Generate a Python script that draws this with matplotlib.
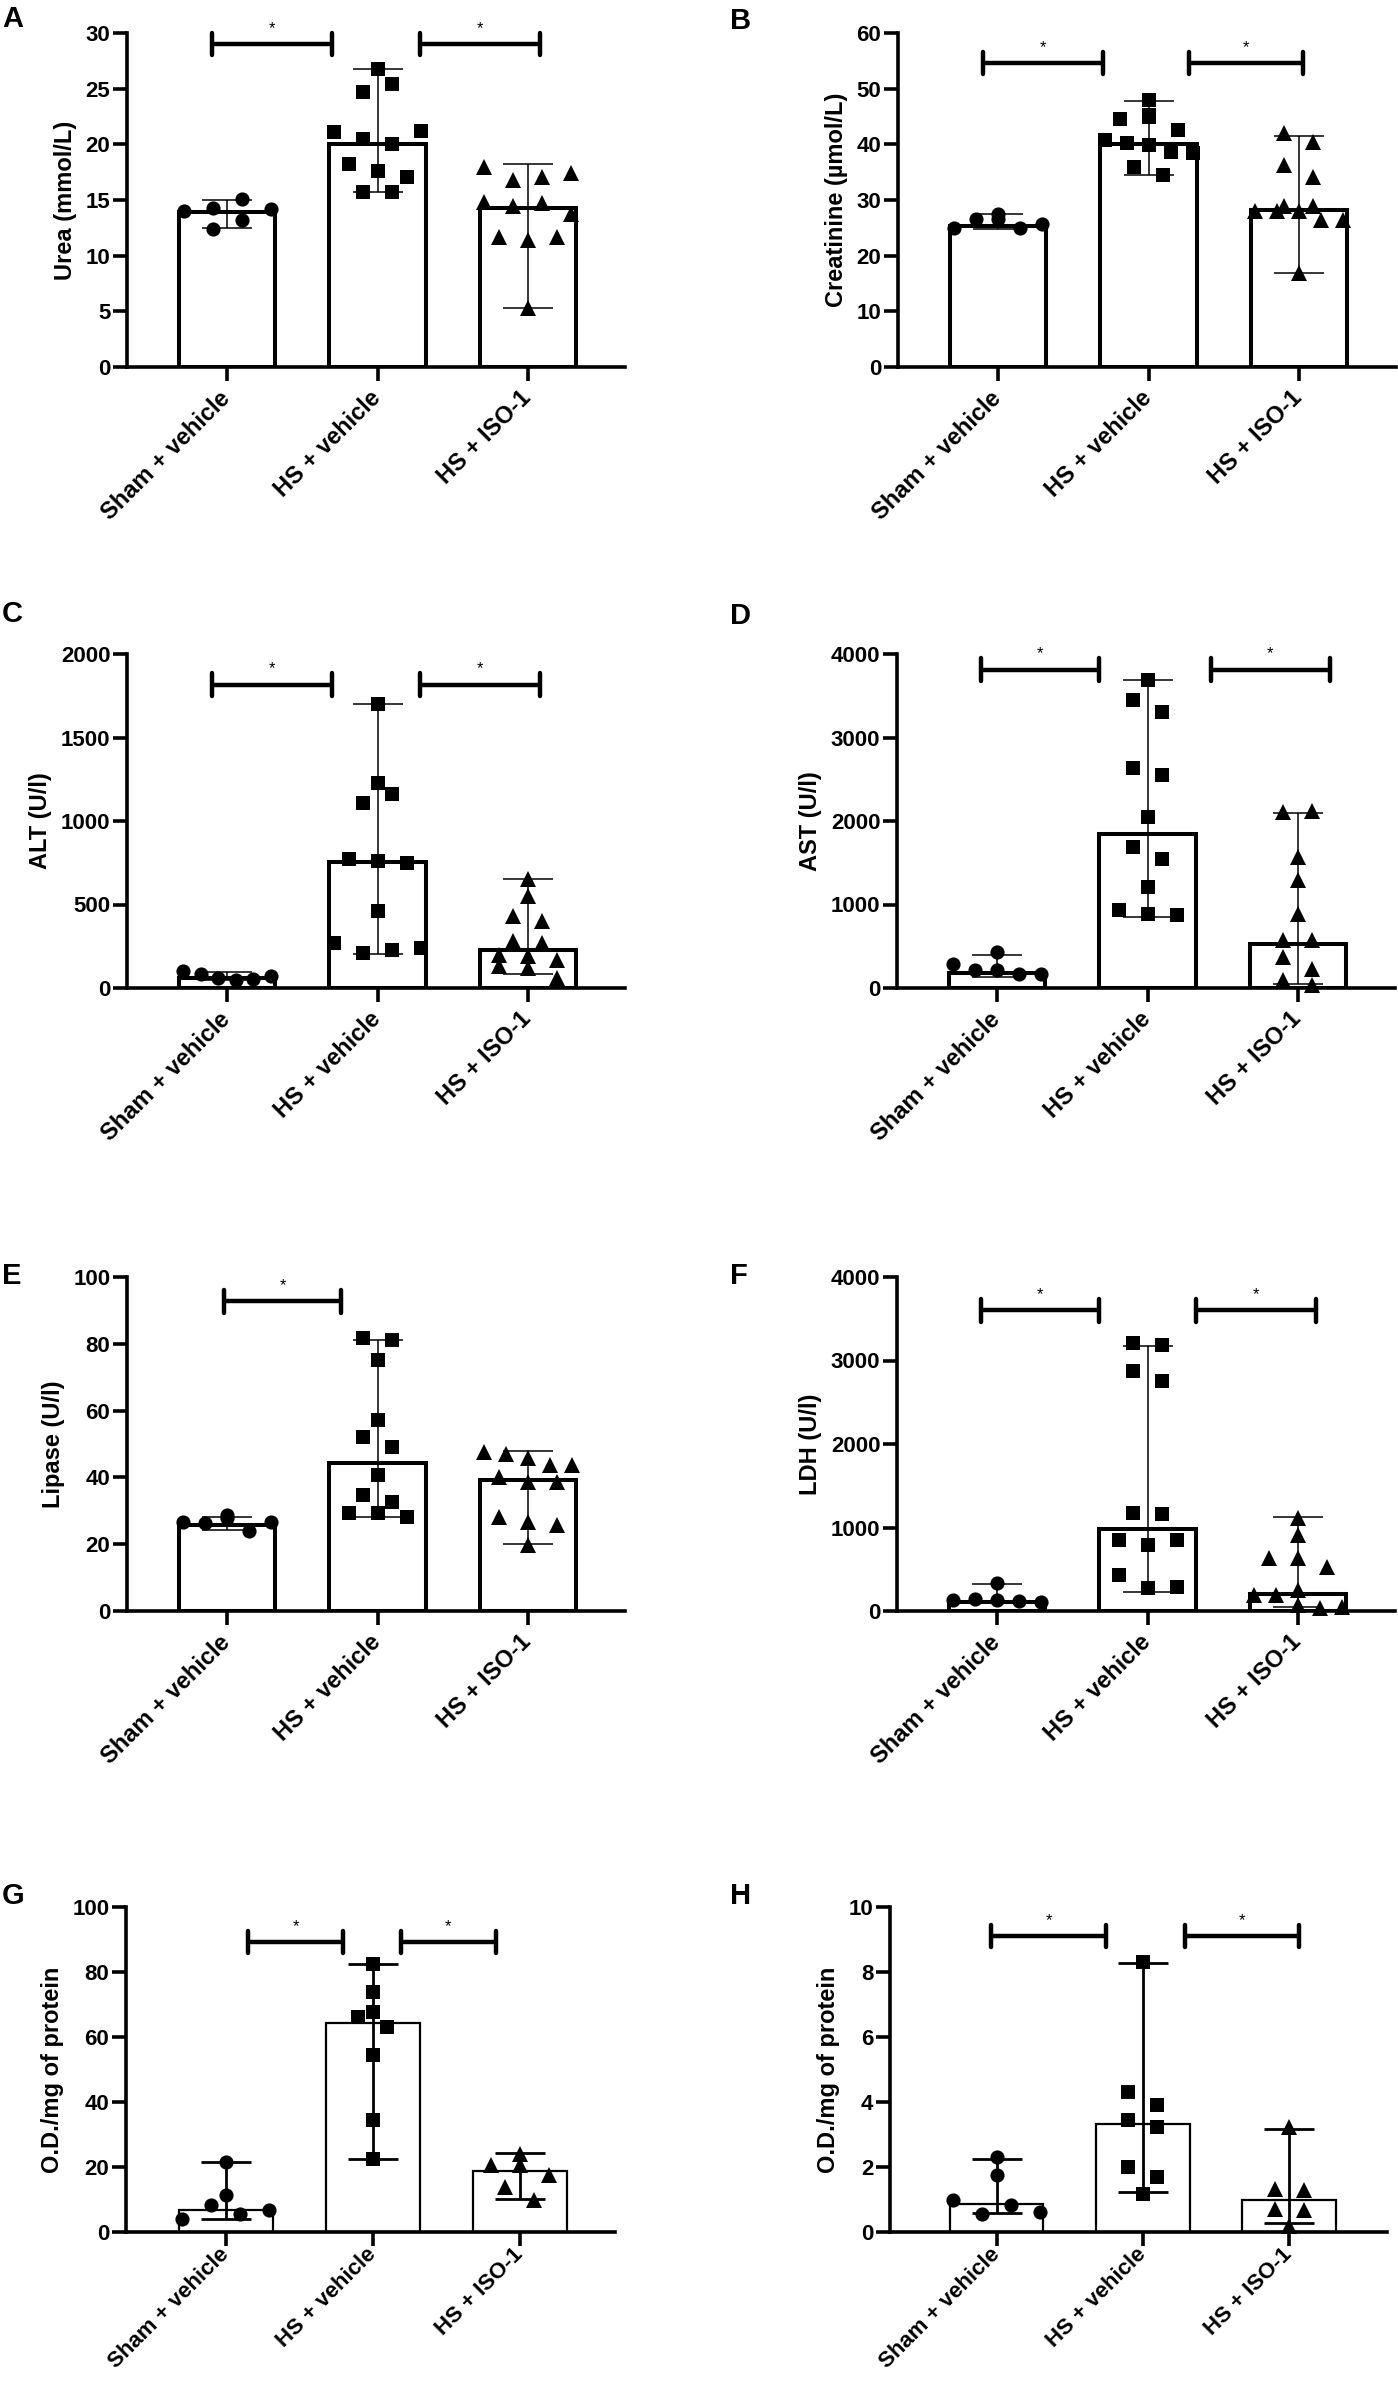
import matplotlib
matplotlib.use("Agg")
import matplotlib.pyplot as plt
import numpy as np

plt.rcParams["font.family"] = ["Liberation Sans", "DejaVu Sans"]
plt.rcParams["font.weight"] = "bold"

groups = ["Sham + vehicle", "HS + vehicle", "HS + ISO-1"]

# A - urea (mmol/L)
urea_sham = [14.0, 14.3, 15.1, 12.4, 13.2, 14.2]
urea_hs = [26.8, 24.7, 25.4, 21.1, 20.5, 20.0, 21.2, 18.2, 17.6, 17.1, 15.7, 15.7]
urea_iso = [18.0, 16.8, 17.1, 17.4, 14.8, 14.5, 14.7, 13.7, 11.7, 11.4, 11.7, 5.3]
urea_bar = [13.9, 20.0, 14.3]
urea_lo = [12.5, 15.7, 5.3]
urea_hi = [15.0, 26.8, 18.2]

# B - creatinine (umol/L)
crea_sham = [24.9, 26.5, 27.5, 26.5, 24.9, 25.6]
crea_hs = [48.0, 45.3, 44.5, 45.0, 42.6, 40.8, 40.2, 39.9, 38.7, 38.4, 36.0, 34.5]
crea_iso = [42.0, 40.5, 36.3, 34.2, 29.0, 28.0, 28.0, 28.0, 29.0, 26.4, 26.4, 16.8]
crea_bar = [25.4, 40.0, 28.2]
crea_lo = [24.8, 34.5, 16.8]
crea_hi = [27.5, 47.7, 41.5]

# C - ALT (U/l)
alt_sham = [100, 85, 60, 45, 55, 70]
alt_hs = [1700, 1230, 1110, 1160, 770, 760, 750, 460, 270, 210, 230, 240]
alt_iso = [650, 550, 430, 400, 280, 270, 200, 190, 170, 130, 120, 60]
alt_bar = [60, 756, 226]
alt_lo = [45, 205, 86]
alt_hi = [96, 1700, 652]

# D - AST (U/l)
ast_sham = [430, 290, 210, 210, 170, 170]
ast_hs = [3690, 3450, 3310, 2630, 2550, 2050, 1690, 1550, 1210, 930, 890, 870]
ast_iso = [2110, 2120, 1570, 1290, 890, 570, 570, 370, 230, 90, 40]
ast_bar = [175, 1840, 532]
ast_lo = [130, 852, 50]
ast_hi = [400, 3692, 2100]

# E - lipase (U/l)
lip_sham = [28.7, 26.7, 26.2, 27.7, 24.0, 26.7]
lip_hs = [81.7, 81.2, 75.2, 57.2, 52.2, 49.2, 40.7, 34.7, 32.7, 29.2, 29.2, 28.0]
lip_iso = [47.7, 47.0, 45.7, 43.7, 43.7, 40.0, 38.7, 38.7, 28.2, 26.7, 25.7, 19.7]
lip_bar = [25.7, 44.2, 39.2]
lip_lo = [24.2, 28.0, 20.0]
lip_hi = [28.0, 81.2, 48.0]

# F - LDH (U/l)
ldh_sham = [330, 128, 148, 128, 118, 110]
ldh_hs = [3210, 3190, 2870, 2750, 1170, 1160, 850, 790, 850, 430, 270, 290]
ldh_iso = [1110, 910, 630, 630, 530, 250, 190, 190, 70, 30, 50]
ldh_bar = [108, 988, 208]
ldh_lo = [90, 228, 48]
ldh_hi = [328, 3176, 1128]

# G - O.D./mg of protein
odg_sham = [11.3, 4.1, 8.2, 21.5, 5.6, 6.7]
odg_hs = [82.6, 73.8, 67.7, 66.2, 63.1, 54.4, 34.4, 22.6]
odg_iso = [24.1, 20.5, 20.5, 17.4, 13.8, 9.7]
odg_bar = [6.7, 64.4, 18.8]
odg_lo = [4.1, 22.6, 10.3]
odg_hi = [21.5, 82.6, 24.3]

# H - O.D./mg of protein
odh_sham = [0.97, 0.56, 2.31, 1.74, 0.82, 0.62]
odh_hs = [8.3, 4.3, 3.9, 3.44, 3.23, 2.0, 1.69, 1.18]
odh_iso = [3.23, 1.33, 1.28, 0.72, 0.67, 0.2]
odh_bar = [0.87, 3.31, 0.99]
odh_lo = [0.58, 1.23, 0.28]
odh_hi = [2.26, 8.28, 3.18]

W, H = 1398, 2381


def rect(x0, top, width, height):
    return [x0 / W, 1 - (top + height) / H, width / W, height / H]


panels = [
    dict(letter="A", lpos=(2, 5), ylabel="Urea (mmol/L)", ymax=30, ystep=5,
         pts=(urea_sham, urea_hs, urea_iso), bar=urea_bar, lo=urea_lo, hi=urea_hi,
         br=[(-0.10, 0.70, 29.0), (1.28, 2.08, 29.0)],
         rect=rect(127, 33, 498, 334), xlim=(-0.665, 2.645), thin=False),
    dict(letter="B", lpos=(730, 7), ylabel="Creatinine (µmol/L)", ymax=60, ystep=10,
         pts=(crea_sham, crea_hs, crea_iso), bar=crea_bar, lo=crea_lo, hi=crea_hi,
         br=[(-0.10, 0.70, 54.6), (1.27, 2.03, 54.6)],
         rect=rect(898, 33, 498, 334), xlim=(-0.665, 2.645), thin=False),
    dict(letter="C", lpos=(2, 600), ylabel="ALT (U/l)", ymax=2000, ystep=500,
         pts=(alt_sham, alt_hs, alt_iso), bar=alt_bar, lo=alt_lo, hi=alt_hi,
         br=[(-0.10, 0.70, 1816), (1.28, 2.08, 1816)],
         rect=rect(127, 654, 498, 334), xlim=(-0.665, 2.645), thin=False),
    dict(letter="D", lpos=(730, 602), ylabel="AST (U/l)", ymax=4000, ystep=1000,
         pts=(ast_sham, ast_hs, ast_iso), bar=ast_bar, lo=ast_lo, hi=ast_hi,
         br=[(-0.11, 0.68, 3812), (1.42, 2.21, 3812)],
         rect=rect(897, 654, 498, 334), xlim=(-0.665, 2.645), thin=False),
    dict(letter="E", lpos=(2, 1262), ylabel="Lipase (U/l)", ymax=100, ystep=20,
         pts=(lip_sham, lip_hs, lip_iso), bar=lip_bar, lo=lip_lo, hi=lip_hi,
         br=[(-0.02, 0.76, 92.7)],
         rect=rect(127, 1277, 498, 334), xlim=(-0.665, 2.645), thin=False),
    dict(letter="F", lpos=(730, 1262), ylabel="LDH (U/l)", ymax=4000, ystep=1000,
         pts=(ldh_sham, ldh_hs, ldh_iso), bar=ldh_bar, lo=ldh_lo, hi=ldh_hi,
         br=[(-0.11, 0.68, 3600), (1.32, 2.12, 3600)],
         rect=rect(897, 1277, 498, 334), xlim=(-0.665, 2.645), thin=False),
    dict(letter="G", lpos=(2, 1882), ylabel="O.D./mg of protein", ymax=100, ystep=20,
         pts=(odg_sham, odg_hs, odg_iso), bar=odg_bar, lo=odg_lo, hi=odg_hi,
         br=[(0.15, 0.80, 89.2), (1.19, 1.84, 89.2)],
         rect=rect(126, 1907, 489, 325), xlim=(-0.68, 2.65), thin=True),
    dict(letter="H", lpos=(730, 1882), ylabel="O.D./mg of protein", ymax=10, ystep=2,
         pts=(odh_sham, odh_hs, odh_iso), bar=odh_bar, lo=odh_lo, hi=odh_hi,
         br=[(-0.04, 0.75, 9.1), (1.29, 2.07, 9.1)],
         rect=rect(890, 1907, 497, 325), xlim=(-0.73, 2.67), thin=True),
]

markers = ["o", "s", "^"]
msizes = [10.2, 9.4, 11.2]


def swarm_x(ax, xc, vals, gap_px=29.0, thresh_px=14.0, max_half_px=44.0):
    """GraphPad-like scatter: points close in y are spread side by side."""
    vals = np.asarray(vals, dtype=float)
    pix = ax.transData.transform(np.column_stack([np.full(len(vals), xc), vals]))
    ypix = pix[:, 1]
    order = np.argsort(ypix, kind="stable")
    clusters = []
    for i in order:
        if clusters and ypix[i] - ypix[clusters[-1][0]] < thresh_px:
            clusters[-1].append(i)
        else:
            clusters.append([i])
    xpix = np.full(len(vals), pix[0, 0])
    for cl in clusters:
        cl = sorted(cl)
        n = len(cl)
        if n > 1:
            step = min(gap_px, 2 * max_half_px / (n - 1))
            for k, i in enumerate(cl):
                xpix[i] += (k - (n - 1) / 2) * step
    back = ax.transData.inverted().transform(np.column_stack([xpix, ypix]))
    return back[:, 0]


fig = plt.figure(figsize=(W / 100, H / 100), dpi=100)
fig.patch.set_facecolor("white")

for p in panels:
    ax = fig.add_axes(p["rect"])
    x = np.arange(len(groups))
    ax.set_xlim(*p["xlim"])
    ax.set_ylim(0, p["ymax"])

    bar_lw = 1.6 if p["thin"] else 2.9
    err_lw = 2.0 if p["thin"] else 1.1

    ax.bar(x, p["bar"], width=0.64, color="white", edgecolor="black",
           linewidth=bar_lw, zorder=2)
    bar = np.array(p["bar"], dtype=float)
    yerr = [bar - np.array(p["lo"]), np.array(p["hi"]) - bar]
    ax.errorbar(x, bar, yerr=yerr, fmt="none", ecolor="black",
                elinewidth=err_lw, capsize=18, capthick=err_lw, zorder=3)

    for i, vals in enumerate(p["pts"]):
        xs = swarm_x(ax, x[i], vals)
        ax.plot(xs, vals, linestyle="none", marker=markers[i], ms=msizes[i],
                color="black", markeredgewidth=0, zorder=4, clip_on=False)

    # significance brackets
    cap = p["ymax"] * 0.034
    for x1, x2, yb in p["br"]:
        ax.plot([x1, x2], [yb, yb], color="black", lw=3.2, zorder=5,
                clip_on=False, solid_capstyle="butt")
        for xe in (x1, x2):
            ax.plot([xe, xe], [yb - cap, yb + cap], color="black", lw=3.2,
                    zorder=5, clip_on=False, solid_capstyle="round")
        ax.annotate("*", xy=((x1 + x2) / 2, yb), xytext=(0, 6),
                    textcoords="offset points", ha="center", va="bottom",
                    fontsize=12, fontweight="normal")

    for side in ("top", "right"):
        ax.spines[side].set_visible(False)
    for side in ("left", "bottom"):
        ax.spines[side].set_linewidth(2.6)

    xt_size = 16 if p["thin"] else 17
    xt_pad = 4 if p["thin"] else 10

    ax.set_yticks(np.arange(0, p["ymax"] + p["ystep"] / 2, p["ystep"]))
    ax.set_yticklabels([f"{v:g}" for v in ax.get_yticks()])
    ax.set_xticks(x)
    ax.set_xticklabels(groups, rotation=45, ha="right", va="center",
                       rotation_mode="anchor", fontsize=xt_size, fontweight="bold")
    ax.tick_params(axis="both", width=2.6, length=10, labelsize=16)
    ax.tick_params(axis="y", pad=2)
    ax.tick_params(axis="x", pad=xt_pad, labelsize=xt_size)
    ax.set_ylabel(p["ylabel"], fontsize=17, fontweight="bold", labelpad=6)

    lx, ly = p["lpos"]
    fig.text(lx / W, 1 - ly / H, p["letter"], ha="left", va="top",
             fontsize=21, fontweight="bold")

fig.savefig("out.png", dpi=100, facecolor="white")
